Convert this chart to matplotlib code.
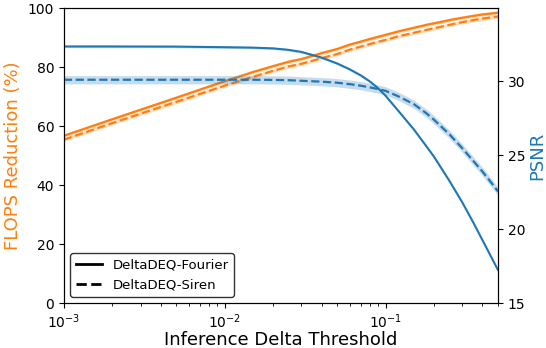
import matplotlib
matplotlib.use("Agg")
import matplotlib.pyplot as plt
from matplotlib.lines import Line2D
from matplotlib.ticker import MultipleLocator

# inference delta thresholds
thresholds = [0.001, 0.002, 0.005, 0.01, 0.015, 0.02, 0.025, 0.03,
              0.04, 0.05, 0.06, 0.07, 0.08, 0.09, 0.1, 0.12, 0.15,
              0.18, 0.2, 0.25, 0.3, 0.35, 0.4, 0.45, 0.5]

# FLOPS reduction (%)
flops_fourier = [56.7, 62.3, 69.6, 75.2, 78.3, 80.3, 81.8, 82.7,
                 84.7, 86.1, 87.6, 88.6, 89.5, 90.25, 90.9, 92.05, 93.3,
                 94.3, 94.8, 95.9, 96.7, 97.3, 97.8, 98.1, 98.4]
flops_siren = [55.4, 61.0, 68.2, 73.7, 76.7, 78.7, 80.2, 81.1,
               83.0, 84.4, 85.9, 86.9, 87.8, 88.55, 89.2, 90.4, 91.6,
               92.6, 93.1, 94.3, 95.2, 95.9, 96.4, 96.8, 97.1]

# PSNR (dB)
psnr_fourier = [32.35, 32.35, 32.34, 32.3, 32.27, 32.22, 32.12, 31.98,
                31.6, 31.2, 30.8, 30.4, 29.98, 29.52, 29.02, 28.0, 26.74,
                25.58, 24.9, 23.25, 21.81, 20.48, 19.27, 18.2, 17.24]
psnr_siren = [30.1, 30.1, 30.1, 30.1, 30.1, 30.09, 30.07, 30.03,
              29.97, 29.9, 29.8, 29.7, 29.58, 29.47, 29.35, 28.98, 28.45,
              27.82, 27.4, 26.4, 25.47, 24.63, 23.9, 23.2, 22.55]

# spread of the runs
flops_std = 0.6
psnr_fourier_std = 0.08
psnr_siren_std = 0.28

orange = "#ff7f0e"
blue = "#1f77b4"

fig = plt.figure(figsize=(5.46, 3.48), dpi=100)
ax = fig.add_axes([0.117, 0.129, 0.795, 0.848])
ax2 = ax.twinx()

ax.plot(thresholds, flops_fourier, color=orange, lw=1.6, ls="-")
ax.fill_between(thresholds, [v - flops_std for v in flops_fourier],
                [v + flops_std for v in flops_fourier], color=orange, alpha=0.25, lw=0)
ax.plot(thresholds, flops_siren, color=orange, lw=1.6, ls="--")
ax.fill_between(thresholds, [v - flops_std for v in flops_siren],
                [v + flops_std for v in flops_siren], color=orange, alpha=0.25, lw=0)

ax2.plot(thresholds, psnr_fourier, color=blue, lw=1.5, ls="-")
ax2.fill_between(thresholds, [v - psnr_fourier_std for v in psnr_fourier],
                 [v + psnr_fourier_std for v in psnr_fourier], color=blue, alpha=0.25, lw=0)
ax2.plot(thresholds, psnr_siren, color=blue, lw=1.6, ls="--")
ax2.fill_between(thresholds, [v - psnr_siren_std for v in psnr_siren],
                 [v + psnr_siren_std for v in psnr_siren], color=blue, alpha=0.25, lw=0)

ax.set_xscale("log")
ax.set_xlim(0.001, 0.5)
ax.set_ylim(0, 100)
ax2.set_ylim(15, 34.95)
ax2.yaxis.set_major_locator(MultipleLocator(5))

ax.set_xlabel("Inference Delta Threshold", fontsize=13, labelpad=0)
ax.set_ylabel("FLOPS Reduction (%)", color=orange, fontsize=13)
ax2.set_ylabel("PSNR", color=blue, fontsize=13, labelpad=2)
ax.tick_params(labelsize=10)
ax2.tick_params(labelsize=10)

handles = [Line2D([], [], color="black", lw=2, ls="-"),
           Line2D([], [], color="black", lw=2, ls="--")]
ax.legend(handles, ["DeltaDEQ-Fourier", "DeltaDEQ-Siren"], loc="lower left",
          fontsize=9.5, edgecolor="black", fancybox=True)

fig.savefig("out.png", dpi=100)
